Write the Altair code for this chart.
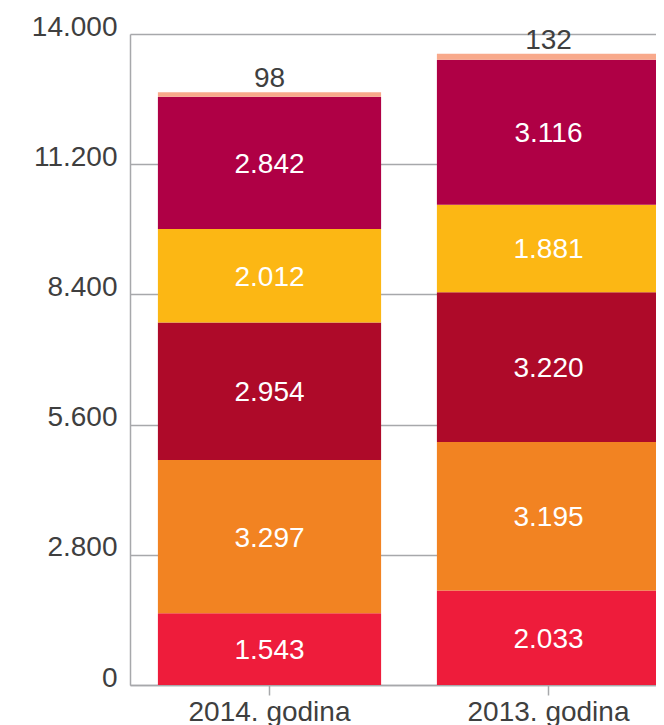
import altair as alt
import pandas as pd

years = ["2014. godina", "2013. godina"]
categories = ["K1", "K2", "K3", "K4", "K5", "K6"]
values_2014 = [1543, 3297, 2954, 2012, 2842, 98]
values_2013 = [2033, 3195, 3220, 1881, 3116, 132]
colors = ["#EE1C3B", "#F28322", "#AE0A29", "#FCB714", "#AF0045", "#F8A98B"]
y_ticks = [0, 2800, 5600, 8400, 11200, 14000]

rows = []
for yr, vals in zip(years, [values_2014, values_2013]):
    for i, (c, v) in enumerate(zip(categories, vals)):
        rows.append({"year": yr, "cat": c, "idx": i, "value": v,
                     "label": f"{v:,}".replace(",", ".")})
df = pd.DataFrame(rows)

FONT = "Liberation Sans"
GRAY = "#A7A8AB"
TXT = "#3F3F3F"
FS = 28

base = alt.Chart(df).transform_stack(
    stack="value", groupby=["year"], as_=["y0", "y1"],
    sort=[alt.SortField("idx", order="ascending")]
)

xenc = alt.X("year:N", sort=years, title=None,
             scale=alt.Scale(range=[0, 558], paddingInner=0.2, paddingOuter=0.1),
             axis=alt.Axis(labelAngle=0, ticks=True, tickSize=10, tickColor=GRAY,
                           tickWidth=1.5, domainColor=GRAY, domainWidth=1.5,
                           labelFontSize=FS, labelColor=TXT, labelFont=FONT,
                           labelPadding=3, grid=False))

yscale = alt.Scale(domain=[0, 14000], nice=False)

bars = base.mark_bar().encode(
    x=xenc,
    y=alt.Y("y0:Q", scale=yscale, title=None,
            axis=alt.Axis(values=y_ticks, grid=True, gridColor=GRAY, gridWidth=1.5,
                          domainColor=GRAY, domainWidth=1.5, ticks=False,
                          labelFontSize=FS, labelColor=TXT, labelFont=FONT,
                          labelPadding=13, labelOffset=-7,
                          labelExpr="replace(format(datum.value, ','), ',', '.')")),
    y2="y1:Q",
    color=alt.Color("cat:N", scale=alt.Scale(domain=categories, range=colors), legend=None),
)

inner = base.transform_filter("datum.idx < 5").transform_calculate(
    mid="(datum.y0 + datum.y1) / 2"
).mark_text(color="white", fontSize=FS, font=FONT, baseline="middle", dy=2).encode(
    x=alt.X("year:N", sort=years),
    y=alt.Y("mid:Q", scale=yscale),
    text="label:N",
)

top = base.transform_filter("datum.idx == 5").mark_text(
    color=TXT, fontSize=FS, font=FONT, baseline="alphabetic", dy=-5
).encode(
    x=alt.X("year:N", sort=years),
    y=alt.Y("y1:Q", scale=yscale),
    text="label:N",
)

chart = alt.layer(bars, inner, top).properties(
    width=526, height=651,
    autosize=alt.AutoSizeParams(type="none"),
    padding={"left": 122, "top": 26, "right": 0, "bottom": 40},
).configure_view(strokeOpacity=0)

chart.save("out.html", embed_options={"renderer": "svg", "actions": False})
